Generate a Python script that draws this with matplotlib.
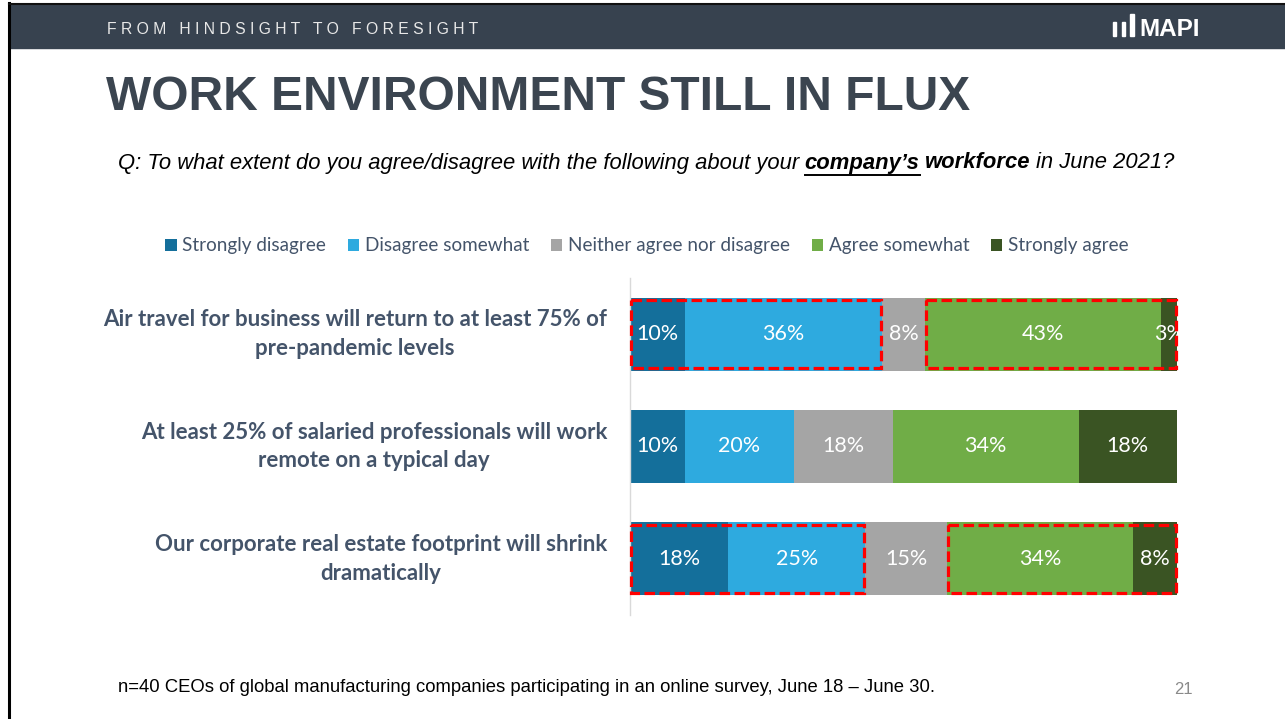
import matplotlib
matplotlib.use("Agg")
import matplotlib.pyplot as plt
from matplotlib.patches import Rectangle, Patch
from matplotlib.lines import Line2D

# ---------------- data ----------------
categories = [
    "Air travel for business will return to at least 75% of\npre-pandemic levels",
    "At least 25% of salaried professionals will work\nremote on a typical day",
    "Our corporate real estate footprint will shrink\ndramatically",
]
series_names = ["Strongly disagree", "Disagree somewhat", "Neither agree nor disagree",
                "Agree somewhat", "Strongly agree"]
strongly_disagree = [10, 10, 18]
disagree_somewhat = [36, 20, 25]
neither = [8, 18, 15]
agree_somewhat = [43, 34, 34]
strongly_agree = [3, 18, 8]
series_values = [strongly_disagree, disagree_somewhat, neither, agree_somewhat, strongly_agree]
highlighted_rows = [0, 2]
highlight_groups = [(0, 1), (3, 4)]

colors = ["#146f9b", "#2eaadf", "#a5a5a5", "#70ad47", "#3a5423"]

title = "WORK ENVIRONMENT STILL IN FLUX"
header = "FROM HINDSIGHT TO FORESIGHT"
footnote = "n=40 CEOs of global manufacturing companies participating in an online survey, June 18 \u2013 June 30."
page_no = "21"

W, H = 1285, 719
fig = plt.figure(figsize=(W / 100, H / 100), dpi=100)
fig.patch.set_facecolor("white")


def fx(x):
    return x / W


def fy(y):
    return 1 - y / H


ARIAL = "Liberation Sans"
CAL = "Lato"
SLATE = "#44546a"

# ---------------- header band & frame ----------------
fig.patches.append(Rectangle((fx(10), fy(48)), 1 - fx(10), fy(5) - fy(48),
                             transform=fig.transFigure, color="#37424f", zorder=0))
fig.lines.append(Line2D([fx(9), fx(9)], [fy(3), 0], transform=fig.transFigure,
                        color="black", lw=2.2))
fig.lines.append(Line2D([fx(9), 1], [fy(3.5), fy(3.5)], transform=fig.transFigure,
                        color="#111111", lw=1.5))
fig.text(fx(107), fy(29), "   ".join(" ".join(w) for w in header.split(" ")),
         color="#e8e8e8", fontsize=11.3, family=ARIAL, ha="left", va="center")
# logo
for (x0, x1, y0) in [(1112.5, 1115.5, 22), (1121.5, 1124.5, 22), (1130, 1133.5, 14)]:
    fig.patches.append(Rectangle((fx(x0), fy(36)), fx(x1) - fx(x0), fy(y0) - fy(36),
                                 transform=fig.transFigure, color="white"))
fig.text(fx(1139), fy(29), "MAPI", color="white", fontsize=17.5, family=ARIAL,
         fontweight="heavy", ha="left", va="center")

# ---------------- title ----------------
fig.text(fx(106), fy(98), title, color="#3b4550", fontsize=34.5, family=ARIAL,
         fontweight="bold", ha="left", va="center")

# ---------------- subtitle (mixed styles) ----------------
fig.canvas.draw()
renderer = fig.canvas.get_renderer()
pieces = [
    ("Q: To what extent do you agree/disagree with the following about your", "normal", False),
    ("company\u2019s", "bold", True),
    ("workforce", "bold", False),
    ("in June 2021?", "normal", False),
]
x = fx(118)
ysub = fy(163)
space = 5.5 / W
for txt, wt, ul in pieces:
    t = fig.text(x, ysub, txt, fontsize=15.85, family=ARIAL, style="italic",
                 fontweight=wt, color="black", ha="left", va="center")
    bb = t.get_window_extent(renderer=renderer)
    if ul:
        fig.lines.append(Line2D([bb.x0 / W, bb.x1 / W], [fy(175), fy(175)],
                                transform=fig.transFigure, color="black", lw=1.4))
    x = bb.x1 / W + space

# ---------------- chart ----------------
ax = fig.add_axes([fx(630), fy(615), fx(1177) - fx(630), fy(278) - fy(615)])
ypos = list(range(len(categories)))
bar_h = 0.65
lefts = [0] * len(categories)
for name, vals, col in zip(series_names, series_values, colors):
    ax.barh(ypos, vals, left=lefts, height=bar_h, color=col, label=name, zorder=2)
    for i, v in enumerate(vals):
        ax.text(lefts[i] + v / 2, ypos[i], f"{v}%", ha="center", va="center",
                color="white", fontsize=15.5, family=CAL, clip_on=True, zorder=4)
    lefts = [l + v for l, v in zip(lefts, vals)]

# highlight boxes
for r in highlighted_rows:
    cum = [0]
    for vals in series_values:
        cum.append(cum[-1] + vals[r])
    for (a, b) in highlight_groups:
        x0 = cum[a]
        x1 = cum[b + 1]
        ax.add_patch(Rectangle((x0 + 0.15, r - bar_h / 2 + 0.02), x1 - x0 - 0.3, bar_h - 0.04,
                               fill=False, edgecolor="#ff0000", lw=2.3,
                               linestyle=(0, (3.3, 1.4)), clip_on=False, zorder=5))

ax.set_xlim(0, 100)
ax.set_ylim(2.5, -0.5)
ax.set_xticks([])
ax.set_yticks([])
for s in ["top", "right", "bottom"]:
    ax.spines[s].set_visible(False)
ax.spines["left"].set_color("#d9d9d9")
ax.spines["left"].set_linewidth(1.0)
ax.patch.set_alpha(0)

# category labels
for i, cat in enumerate(categories):
    ax.text(-0.042, ypos[i], cat, transform=ax.get_yaxis_transform(), ha="right",
            va="center", multialignment="center", fontsize=16, family=CAL,
            fontweight="bold", color=SLATE, linespacing=1.45)

# legend
handles = [Patch(facecolor=c, edgecolor="none", label=n) for n, c in zip(series_names, colors)]
fig.legend(handles=handles, loc="center", bbox_to_anchor=(fx(647), fy(246)), ncol=5,
           frameon=False, handlelength=0.6, handleheight=0.6, handletextpad=0.3,
           columnspacing=1.15, prop={"family": CAL, "size": 13.6}, labelcolor=SLATE)

# footer
fig.text(fx(118), fy(687), footnote, fontsize=13.3, family=ARIAL, color="black",
         ha="left", va="center")
fig.text(fx(1183), fy(690), page_no, fontsize=12, family=ARIAL, color="#8a8a8a",
         ha="center", va="center")

fig.savefig("out.png", dpi=100, facecolor="white")
